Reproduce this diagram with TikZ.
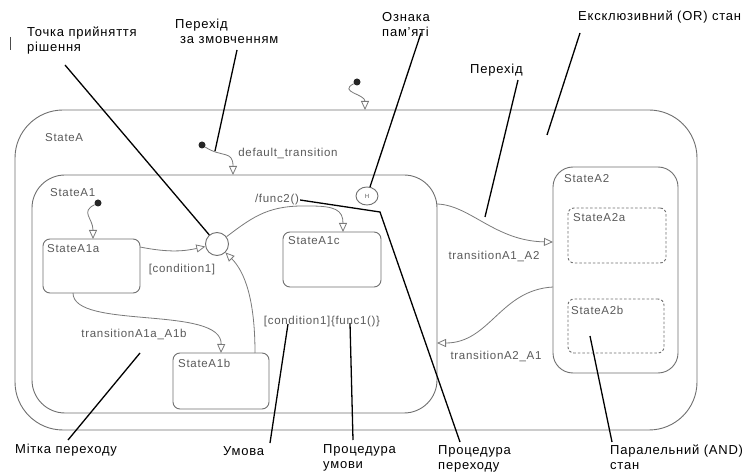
\documentclass[tikz,border=0pt]{standalone}
\usepackage{fontspec}
\setmainfont{Liberation Sans}[LetterSpace=6]
\usetikzlibrary{arrows.meta,shapes.geometric}
\definecolor{boxc}{HTML}{707070}
\definecolor{txtc}{HTML}{5A5A5A}
\definecolor{linec}{HTML}{7A7A7A}
\begin{document}
\begin{tikzpicture}[x=1pt,y=-1pt,
  statebox/.style={draw=boxc, line width=0.9pt, fill=white, rounded corners=#1, inner sep=0pt, outer sep=0pt},
  statebox/.default=7,
  dashbox/.style={draw=boxc, line width=0.9pt, dash pattern=on 2.5pt off 2pt, rounded corners=6, inner sep=0pt, outer sep=0pt},
  slabel/.style={text=txtc, font=\fontsize{11.5}{13}\selectfont, inner sep=0pt, anchor=west},
  tlabel/.style={text=txtc, font=\fontsize{11.5}{13}\selectfont, inner sep=1pt},
  note/.style={text=black, font=\fontsize{13}{15}\selectfont, inner sep=0pt, anchor=north west, align=left},
  leader/.style={draw=black, line width=1.3pt},
  trans/.style={draw=linec, line width=0.8pt, -{Triangle[open, length=9pt, width=8pt]}},
  initdot/.style={circle, fill=black!85, inner sep=0pt, minimum size=7pt},
]
\useasboundingbox (0,0) rectangle (745,473);
\fill[white] (0,0) rectangle (745,473);

% states
\node[statebox=48, minimum width=682, minimum height=320] (A) at (356,270) {};
\node[statebox=33, minimum width=405, minimum height=238] (A1) at (234.5,294) {};
\node[statebox=20, minimum width=125, minimum height=206] (A2) at (615.5,270) {};
\node[statebox, minimum width=97, minimum height=54] (A1a) at (91.5,266) {};
\node[statebox, minimum width=96, minimum height=56] (A1b) at (221,381) {};
\node[statebox, minimum width=98, minimum height=55] (A1c) at (332,259.5) {};
\node[dashbox, minimum width=98, minimum height=55] (A2a) at (617,235.5) {};
\node[dashbox, minimum width=96, minimum height=54] (A2b) at (616,326) {};

\node[slabel] (lA) at (45,138) {StateA};
\node[slabel] (lA1) at (50,193) {StateA1};
\node[slabel] (lA1a) at (47,249) {StateA1a};
\node[slabel] (lA1b) at (178,363) {StateA1b};
\node[slabel] (lA1c) at (288,241) {StateA1c};
\node[slabel] (lA2) at (564,179) {StateA2};
\node[slabel] (lA2a) at (573,218) {StateA2a};
\node[slabel] (lA2b) at (571,310) {StateA2b};

% junction and history
\node[circle, draw=boxc, line width=0.9pt, fill=white, minimum size=23pt, inner sep=0pt] (J) at (217,244) {};
\node[ellipse, draw=boxc, line width=0.9pt, fill=white, minimum width=22pt, minimum height=18pt, inner sep=0pt, text=txtc, font=\fontsize{6}{6}\selectfont] (H) at (367,196) {H};

% default transitions
\node[initdot] (d0) at (357,82) {};
\node[initdot] (d1) at (202,145) {};
\node[initdot] (d2) at (98,203) {};
\coordinate (e0) at (365,110);
\coordinate (e1) at (233,175);
\coordinate (e2) at (93,239);
\draw[trans] (d0) .. controls (338,92) and (365,94) .. (e0);
\draw[trans] (d1) .. controls (222,158) and (233,150) .. (e1);
\draw[trans] (d2) .. controls (80,212) and (93,218) .. (e2);

% transitions
\coordinate (s1) at (140,247);
\coordinate (s2) at (73,293);
\coordinate (s3) at (255,353);
\coordinate (e3) at (343,232);
\coordinate (s4) at (437,204);
\coordinate (e4) at (553,242);
\coordinate (s5) at (553,287);
\coordinate (e5) at (437,343);
\draw[trans] (s1) .. controls (170,253) and (185,251) .. (J);
\draw[trans] (s2) .. controls (73,330) and (222,305) .. (A1b.north);
\draw[trans] (s3) .. controls (255,300) and (245,272) .. (J);
\draw[trans] (J) .. controls (255,215) and (270,205) .. (310,206) .. controls (335,206) and (343,210) .. (e3);
\draw[trans] (s4) .. controls (470,205) and (495,241) .. (e4);
\draw[trans] (s5) .. controls (500,290) and (490,343) .. (e5);

% transition labels
\node[tlabel] (t0) at (288,153) {default\_transition};
\node[tlabel] (t1) at (182,270) {[condition1]};
\node[tlabel] (t2) at (134,334) {transitionA1a\_A1b};
\node[tlabel] (t3) at (322,322) {[condition1]\{func1()\}};
\node[tlabel] (func2) at (277,200) {/func2()};
\node[tlabel] (t5) at (494,256) {transitionA1\_A2};
\node[tlabel] (t6) at (496,356) {transitionA2\_A1};

% annotations
\node[note] (n1) at (27,27) {Точка прийняття\\рішення};
\node[note] (n2) at (175,19) {Перехід\\\hspace*{5pt}за змовченням};
\node[note] (n3) at (382,12) {Ознака\\пам'яті};
\node[note] (n4) at (470,64) {Перехід};
\node[note] (n5) at (578,11) {Ексклюзивний (OR) стан};
\node[note] (n6) at (15,444) {Мітка переходу};
\node[note] (n7) at (223,446) {Умова};
\node[note] (n8) at (323,444) {Процедура\\умови};
\node[note] (n9) at (438,445) {Процедура\\переходу};
\node[note] (n10) at (610,445) {Паралельний (AND)\\стан};

% leader lines
\coordinate (L1a) at (65,65);
\coordinate (L2a) at (237,50);  \coordinate (L2b) at (215,151);
\coordinate (L3a) at (421,33);
\coordinate (L4a) at (518,80);  \coordinate (L4b) at (485,217);
\coordinate (L5a) at (580,33);  \coordinate (L5b) at (547,135);
\coordinate (L6a) at (68,440);  \coordinate (L6b) at (140,353);
\coordinate (L7a) at (270,443); \coordinate (L7b) at (288,324);
\coordinate (L8a) at (353,440); \coordinate (L8b) at (350,323);
\coordinate (L9a) at (460,442); \coordinate (L9m) at (380,212);
\coordinate (L10a) at (612,442); \coordinate (L10b) at (590,336);
\draw[leader] (L1a) -- (J);
\draw[leader] (L2a) -- (L2b);
\draw[leader] (L3a) -- (H);
\draw[leader] (L4a) -- (L4b);
\draw[leader] (L5a) -- (L5b);
\draw[leader] (L6a) -- (L6b);
\draw[leader] (L7a) -- (L7b);
\draw[leader] (L8a) -- (L8b);
\draw[leader] (L9a) -- (L9m) -- (func2.east);
\draw[leader] (L10a) -- (L10b);

% stray mark at the left edge
\draw[draw=black!70, line width=1pt] (10,37) -- (10,50);
\end{tikzpicture}
\end{document}
